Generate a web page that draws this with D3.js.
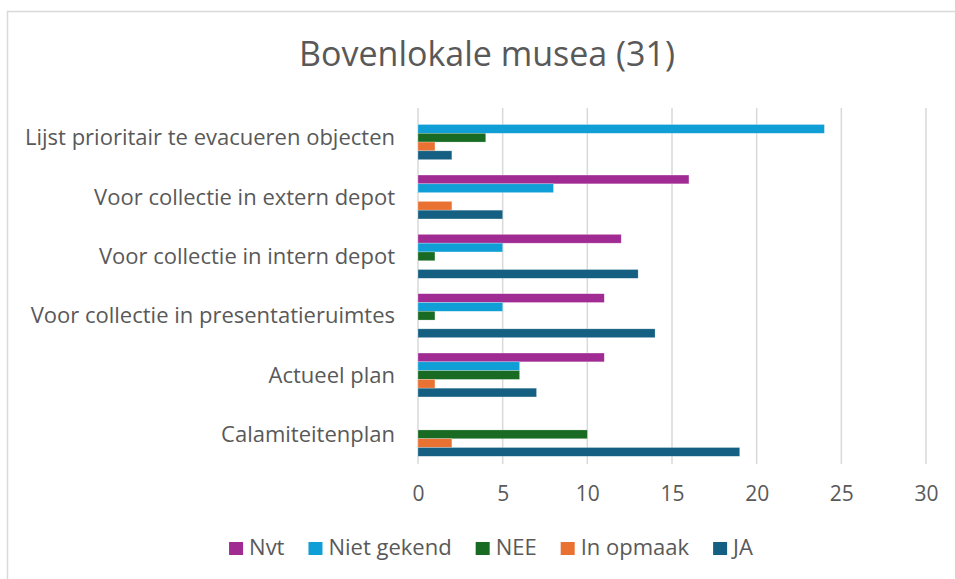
<!DOCTYPE html>
<html>
<head>
<meta charset="utf-8">
<script src="https://cdn.jsdelivr.net/npm/d3@7"></script>
<style>
  body { margin: 0; background: #fff; }
  svg { display: block; font-family: "Open Sans", "Noto Sans", sans-serif; }
</style>
</head>
<body>
<div id="chart"></div>
<script>
var categories = [
  'Lijst prioritair te evacueren objecten',
  'Voor collectie in extern depot',
  'Voor collectie in intern depot',
  'Voor collectie in presentatieruimtes',
  'Actueel plan',
  'Calamiteitenplan'
];
var seriesNames = ['Nvt', 'Niet gekend', 'NEE', 'In opmaak', 'JA'];
var nvt = [0, 16, 12, 11, 11, 0];
var nietGekend = [24, 8, 5, 5, 6, 0];
var nee = [4, 0, 1, 1, 6, 10];
var inOpmaak = [1, 2, 0, 0, 1, 2];
var ja = [2, 5, 13, 14, 7, 19];
var xTicks = [0, 5, 10, 15, 20, 25, 30];
var colors = ['#A02B93', '#0F9ED5', '#196B24', '#E97132', '#156082'];

var series = [nvt, nietGekend, nee, inOpmaak, ja];
var width = 955, height = 579;
var margin = { top: 108, right: 29, bottom: 115, left: 418 };
var font = '"Open Sans", "Noto Sans", sans-serif';

var svg = d3.select('#chart').append('svg')
    .attr('width', width)
    .attr('height', height);

// chart frame
svg.append('rect')
    .attr('x', 7.5).attr('y', 11.5)
    .attr('width', 960).attr('height', 600)
    .style('fill', '#fff')
    .style('stroke', '#d9d9d9')
    .style('stroke-width', '1.5px');

svg.append('text')
    .attr('x', 487).attr('y', 66)
    .attr('text-anchor', 'middle')
    .style('font-size', '34px')
    .style('fill', '#595959')
    .text('Bovenlokale musea (31)');

var x = d3.scaleLinear()
    .domain([0, 30])
    .range([margin.left, width - margin.right]);

var y = d3.scaleBand()
    .domain(categories)
    .range([margin.top, height - margin.bottom])
    .paddingInner(0.26)
    .paddingOuter(0.13);

var ySeries = d3.scaleBand()
    .domain(seriesNames)
    .range([0, y.bandwidth()]);

// gridlines
svg.append('g')
    .selectAll('line')
    .data(xTicks)
    .enter().append('line')
    .attr('x1', d => x(d)).attr('x2', d => x(d))
    .attr('y1', margin.top).attr('y2', height - margin.bottom)
    .style('stroke', '#d9d9d9')
    .style('stroke-width', '1.5px');

// x axis labels
var xAxis = d3.axisBottom(x).tickValues(xTicks).tickSize(0).tickPadding(0);
var gx = svg.append('g')
    .attr('transform', 'translate(0,' + (height - margin.bottom + 22) + ')')
    .call(xAxis);
gx.select('.domain').remove();
gx.selectAll('text')
    .style('font-family', font)
    .style('font-size', '21px')
    .style('fill', '#595959');

// y axis labels
var yAxis = d3.axisLeft(y).tickSize(0).tickPadding(23);
var gy = svg.append('g')
    .attr('transform', 'translate(' + margin.left + ',0)')
    .call(yAxis);
gy.select('.domain').remove();
gy.selectAll('text')
    .attr('dy', '0.35em')
    .style('font-family', font)
    .style('font-size', '22px')
    .style('fill', '#595959');

// bars
seriesNames.forEach(function (name, s) {
  svg.append('g')
      .selectAll('rect')
      .data(series[s])
      .enter().append('rect')
      .attr('x', x(0))
      .attr('y', (d, i) => y(categories[i]) + ySeries(name))
      .attr('width', d => x(d) - x(0))
      .attr('height', ySeries.bandwidth())
      .style('fill', colors[s])
      .style('stroke', '#fff')
      .style('stroke-opacity', 0.4)
      .style('stroke-width', '0.6px');
});

// legend, laid out from the measured text widths
var legend = svg.append('g');
var items = legend.selectAll('g')
    .data(seriesNames)
    .enter().append('g');
items.append('rect')
    .attr('width', 14).attr('height', 13)
    .style('fill', (d, i) => colors[i]);
items.append('text')
    .attr('x', 20).attr('y', 13)
    .style('font-size', '22px')
    .style('fill', '#595959')
    .text(d => d);
var pos = 0;
items.each(function () {
  var w = 20 + this.querySelector('text').getComputedTextLength();
  d3.select(this).attr('transform', 'translate(' + pos + ',0)');
  pos += w + 24;
});
var total = pos - 24;
legend.attr('transform', 'translate(' + (491 - total / 2) + ',542)');
</script>
</body>
</html>
